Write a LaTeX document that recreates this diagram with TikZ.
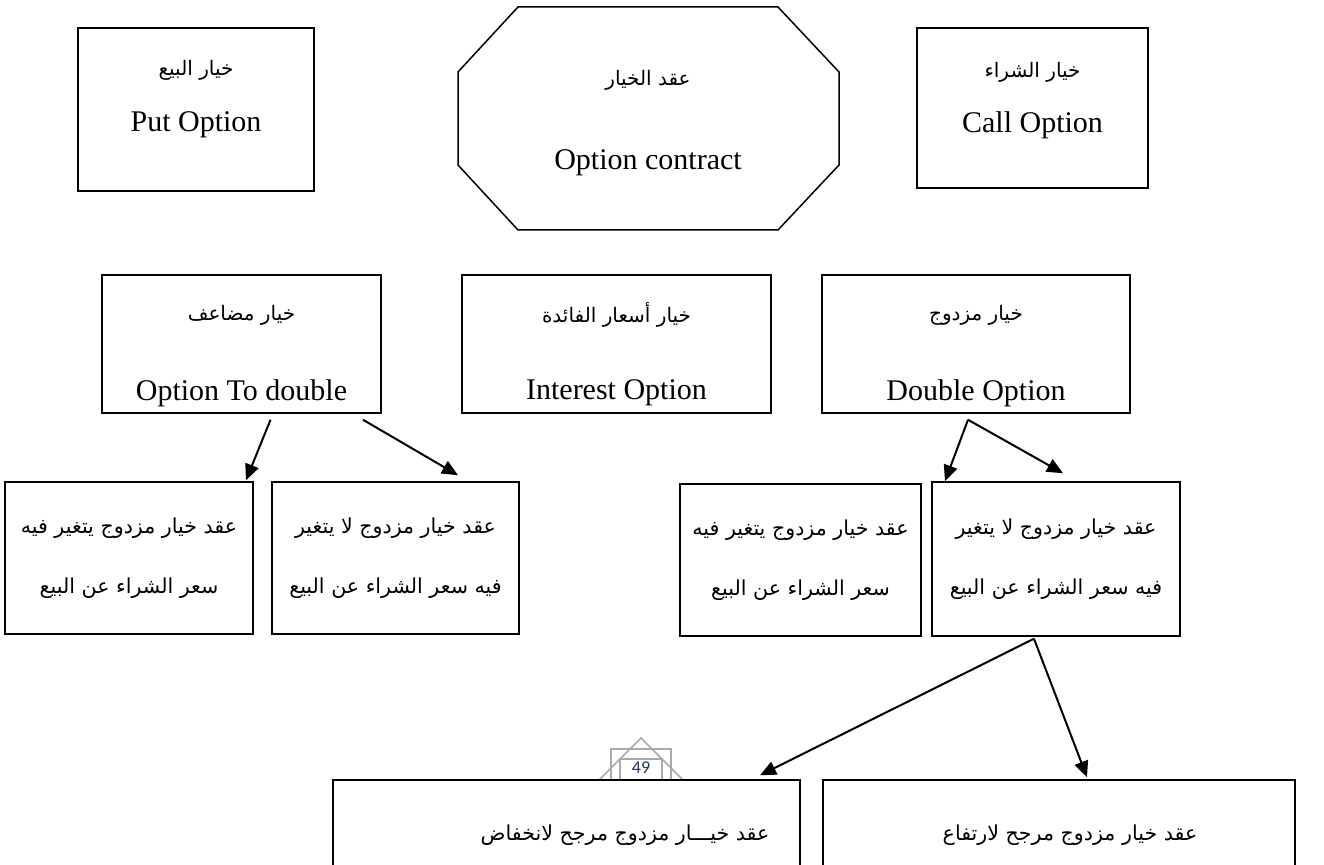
\documentclass[tikz,border=0pt]{standalone}
\usepackage{fontspec}
\setmainfont{Liberation Serif}
\newfontfamily\arabicfont[Script=Arabic]{DejaVu Sans}
\newfontfamily\numfont{Carlito}
\TeXXeTstate=1
\usetikzlibrary{arrows.meta,calc}
\newcommand{\artxt}[1]{{\arabicfont\beginR #1\endR}}
\definecolor{icongray}{RGB}{170,170,170}
\definecolor{numblue}{RGB}{31,56,100}
\tikzset{
  box/.style={draw, line width=0.75pt, rectangle, inner sep=0pt},
  en/.style={font=\fontsize{15}{18}\selectfont, inner sep=0pt},
  arS/.style={font=\arabicfont\fontsize{10}{12}\selectfont, inner sep=0pt},
  arL/.style={font=\arabicfont\fontsize{10.3}{12}\selectfont, inner sep=0pt},
  arr/.style={line width=1pt, -{Triangle[length=8pt,width=7pt]}},
}
\begin{document}
\begin{tikzpicture}[x=0.5pt,y=-0.5pt]
\useasboundingbox (0,0) rectangle (1324,865);
\clip (0,0) rectangle (1324,865);

% top row
\node[box, minimum width=118pt, minimum height=81.5pt] (put) at (196,109.5) {};
\node[arS] (putA) at (196,70) {\artxt{خيار البيع}};
\node[en] (putE) at (196,125) {Put Option};

\draw[line width=0.75pt] (518,7) -- (778,7) -- (839,72) -- (839,165) -- (778,230) -- (518,230) -- (458,165) -- (458,72) -- cycle;
\coordinate (oct) at (648,118);
\node[arS] (octA) at (648,80) {\artxt{عقد الخيار}};
\node[en] (octE) at (648,163) {Option contract};

\node[box, minimum width=115.5pt, minimum height=80pt] (call) at (1032.5,108) {};
\node[arS] (callA) at (1032.5,72) {\artxt{خيار الشراء}};
\node[en] (callE) at (1032.5,125) {Call Option};

% second row
\node[box, minimum width=139.5pt, minimum height=69pt] (tod) at (241.5,344) {};
\node[arS] (todA) at (241.5,315) {\artxt{خيار مضاعف}};
\node[en] (todE) at (241.5,393) {Option To double};

\node[box, minimum width=154.5pt, minimum height=69pt] (int) at (616.5,344) {};
\node[arS] (intA) at (616.5,315) {\artxt{خيار أسعار الفائدة}};
\node[en] (intE) at (616.5,393) {Interest Option};

\node[box, minimum width=154pt, minimum height=69pt] (dbl) at (976,344) {};
\node[arS] (dblA) at (976,315) {\artxt{خيار مزدوج}};
\node[en] (dblE) at (976,393) {Double Option};

% third row
\node[box, minimum width=124pt, minimum height=76pt] (A) at (129,558) {};
\node[arL] (A1) at (129,528) {\artxt{عقد خيار مزدوج يتغير فيه}};
\node[arL] (A2) at (129,588) {\artxt{سعر الشراء عن البيع}};

\node[box, minimum width=123.5pt, minimum height=76pt] (B) at (395.5,558) {};
\node[arL] (B1) at (395.5,528) {\artxt{عقد خيار مزدوج لا يتغير}};
\node[arL] (B2) at (395.5,588) {\artxt{فيه سعر الشراء عن البيع}};

\node[box, minimum width=120.5pt, minimum height=76pt] (C) at (800.5,560) {};
\node[arL] (C1) at (800.5,530) {\artxt{عقد خيار مزدوج يتغير فيه}};
\node[arL] (C2) at (800.5,590) {\artxt{سعر الشراء عن البيع}};

\node[box, minimum width=124pt, minimum height=77pt] (D) at (1056,559) {};
\node[arL] (D1) at (1056,529) {\artxt{عقد خيار مزدوج لا يتغير}};
\node[arL] (D2) at (1056,589) {\artxt{فيه سعر الشراء عن البيع}};

% bottom row
\node[box, minimum width=233.5pt, minimum height=60pt] (E) at (566.5,840) {};
\node[arL] (E1) at (625,835) {\artxt{عقد خيـــار مزدوج مرجح لانخفاض}};
\node[box, minimum width=236pt, minimum height=60pt] (F) at (1059,840) {};
\node[arL] (F1) at (1070,835) {\artxt{عقد خيار مزدوج مرجح لارتفاع}};

% arrows
\draw[arr] ($(tod.south)+(29,6)$) -- ($(A.north)+(117,-1)$);
\draw[arr] ($(tod.south)+(121.5,6)$) -- ($(B.north)+(62.5,-6)$);
\draw[arr] ($(dbl.south)+(-8,6)$) -- ($(C.north)+(144.5,-2)$);
\draw[arr] ($(dbl.south)+(-8,6)$) -- ($(D.north)+(7,-8)$);
\draw[arr] ($(D.south)+(-22,2)$) -- ($(E.north)+(193.5,-4)$);
\draw[arr] ($(D.south)+(-22,2)$) -- ($(F.north)+(28,-2)$);

% page number ornament
\begin{scope}
\clip (590,730) rectangle (690,779);
\draw[icongray, line width=0.8pt] (641,738) -- (683,780) -- (641,822) -- (599,780) -- cycle;
\draw[icongray, line width=0.8pt] (611,749) rectangle (671,811);
\draw[icongray, line width=0.8pt] (620,759) rectangle (662,801);
\end{scope}
\node[font=\numfont\fontsize{9}{10}\selectfont, text=numblue, inner sep=0pt] (pnum) at (641,768) {49};
\end{tikzpicture}
\end{document}
